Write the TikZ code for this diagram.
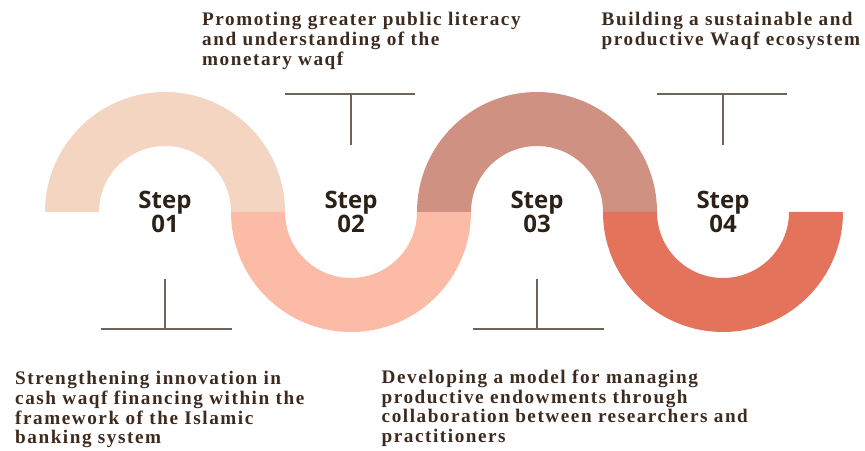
\documentclass[tikz,border=0pt]{standalone}
\usepackage{fontspec}
\setmainfont{Liberation Serif}
\newfontfamily\notefont[LetterSpace=8]{Liberation Serif}
\newfontfamily\stepfont{Open Sans}
\definecolor{ringone}{HTML}{F3D5C2}
\definecolor{ringtwo}{HTML}{FBBBA6}
\definecolor{ringthree}{HTML}{CF9181}
\definecolor{ringfour}{HTML}{E4735C}
\definecolor{barline}{HTML}{6F645A}
\definecolor{stepink}{HTML}{2B2118}
\definecolor{noteink}{HTML}{3D2B1F}
\tikzset{%
    tbar/.style={draw=barline,line width=2.2pt},
    steplabel/.style={inner sep=0pt,align=center,text=stepink,font=\stepfont\bfseries\fontsize{24}{24}\selectfont},
    note/.style={inner sep=0pt,align=left,anchor=north west,text=noteink,font=\notefont\bfseries\fontsize{19.2}{19.8}\selectfont},
}

\begin{document}
\begin{tikzpicture}[x=1pt,y=1pt]
            \useasboundingbox (0,0) rectangle (865,450);

            %half rings
            \foreach \cx/\ea/\col in {165/0/ringone, 351/360/ringtwo, 537/0/ringthree, 723/360/ringfour}
                \fill[\col] (\cx-120,238) arc[start angle=180, end angle=\ea, radius=120pt]
                    -- ++(-54,0) arc[start angle=\ea, end angle=180, radius=66pt] -- cycle;

            %steps
            \node[steplabel] (step1) at (165,238) {Step\\01};
            \node[steplabel] (step2) at (351,238) {Step\\02};
            \node[steplabel] (step3) at (537,238) {Step\\03};
            \node[steplabel] (step4) at (723,238) {Step\\04};

            %markers
            \foreach \cx in {351,723} {
                \draw[tbar] (\cx-66,355.7) -- (\cx+64,355.7);
                \draw[tbar] (\cx,355.7) -- (\cx,304.5);
            }
            \foreach \cx in {165,537} {
                \draw[tbar] (\cx-64,120.7) -- (\cx+67,120.7);
                \draw[tbar] (\cx,120.7) -- (\cx,171);
            }

            %notes
            \node[note] (note1) at (15,79) {Strengthening innovation in\\cash waqf financing within the\\framework of the Islamic\\banking system};
            \node[note] (note2) at (202,438) {Promoting greater public literacy\\and understanding of the\\monetary waqf};
            \node[note] (note3) at (381.5,80.5) {Developing a model for managing\\productive endowments through\\collaboration between researchers and\\practitioners};
            \node[note] (note4) at (601.5,438) {Building a sustainable and\\productive Waqf ecosystem};
        \end{tikzpicture}
\end{document}
